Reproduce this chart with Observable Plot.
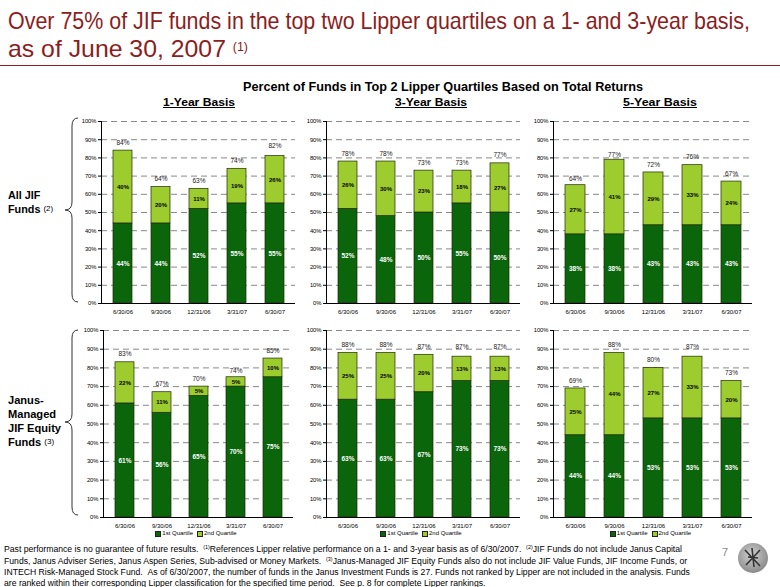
<!DOCTYPE html>
<html><head><meta charset="utf-8">
<script src="https://cdn.jsdelivr.net/npm/d3@7"></script>
<script src="https://cdn.jsdelivr.net/npm/@observablehq/plot@0.6"></script>
<style>
body{margin:0;background:#fff;}
#page{position:relative;width:780px;height:587px;overflow:hidden;background:#fff;
  font-family:"Liberation Sans",Arial,sans-serif;}
.abs{position:absolute;white-space:nowrap;}
.fit{transform-origin:0 0;}
.title{font-size:24px;line-height:28px;color:#8c1d20;}
.title sup{font-size:12px;vertical-align:top;position:relative;top:-2px;}
#rule{left:0;top:65px;width:780px;height:0;border-top:1.6px solid #8c1d20;}
#sub{font-weight:bold;font-size:13px;line-height:15px;}
.hdr{font-weight:bold;font-size:11.5px;line-height:13px;text-decoration:underline;}
.row{font-weight:bold;font-size:11px;line-height:14px;left:8px;}
.row sup{font-weight:normal;font-size:8px;vertical-align:top;}
.legend{font-size:6px;line-height:7px;display:flex;align-items:center;}
.sw{display:inline-block;width:6px;height:6px;border:0.6px solid #222;box-sizing:border-box;margin-right:1px;}
.foot{font-size:9.6px;line-height:11px;left:4px;transform-origin:0 0;}
.foot sup{font-size:6px;vertical-align:top;position:relative;top:-1px;}
#pg{left:722px;top:546px;font-size:11px;color:#888;}
</style></head><body><div id="page">
<div class="abs title fit" data-w="742" style="left:8px;top:7px">Over 75% of JIF funds in the top two Lipper quartiles on a 1- and 3-year basis,</div>
<div class="abs title fit" data-w="240" style="left:8px;top:35px">as of June 30, 2007 <sup>(1)</sup></div>
<div id="rule" class="abs"></div>
<div id="sub" class="abs fit" data-w="400" style="left:243px;top:79px">Percent of Funds in Top 2 Lipper Quartiles Based on Total Returns</div>
<div class="abs hdr fit" data-w="72" style="left:163px;top:96px">1-Year Basis</div>
<div class="abs hdr fit" data-w="72" style="left:395px;top:96px">3-Year Basis</div>
<div class="abs hdr fit" data-w="74" style="left:623px;top:96px">5-Year Basis</div>
<div class="abs row fit" data-w="45" style="top:188px">All JIF<br>Funds <sup>(2)</sup></div>
<div class="abs row fit" data-w="53" style="top:393px">Janus-<br>Managed<br>JIF Equity<br>Funds <sup>(3)</sup></div>
<div class="abs foot" id="firstfoot" data-w="678" style="top:543px">Past performance is no guarantee of future results. &nbsp;<sup>(1)</sup>References Lipper relative performance on a 1- and 3-year basis as of 6/30/2007. &nbsp;<sup>(2)</sup>JIF Funds do not include Janus Capital</div>
<div class="abs foot" style="top:555px">Funds, Janus Adviser Series, Janus Aspen Series, Sub-advised or Money Markets. &nbsp;<sup>(3)</sup>Janus-Managed JIF Equity Funds also do not include JIF Value Funds, JIF Income Funds, or</div>
<div class="abs foot" style="top:566px">INTECH Risk-Managed Stock Fund. &nbsp;As of 6/30/2007, the number of funds in the Janus Investment Funds is 27. Funds not ranked by Lipper are not included in the analysis. Funds</div>
<div class="abs foot" style="top:577px">are ranked within their corresponding Lipper classification for the specified time period. &nbsp;See p. 8 for complete Lipper rankings.</div>
<div id="pg" class="abs">7</div>
<svg class="abs" style="left:0;top:0" width="780" height="587" id="deco">
  <path d="M78,118 Q72,118 72,126 L72,202 Q72,210 65,210 Q72,210 72,218 L72,294 Q72,302 78,302" fill="none" stroke="#333" stroke-width="1"/>
  <path d="M78,330 Q72,330 72,338 L72,414 Q72,422 65,422 Q72,422 72,430 L72,507 Q72,515 78,515" fill="none" stroke="#333" stroke-width="1"/>
  <defs><radialGradient id="lg" cx="45%" cy="40%" r="60%"><stop offset="0" stop-color="#d0d0d0"/><stop offset="1" stop-color="#8a8a8a"/></radialGradient></defs>
  <circle cx="753" cy="558" r="15" fill="url(#lg)"/>
  <path d="M745,550 L760,566 M760,550 L746,565 M748,557 L758,558 M752,548 L754,567" stroke="#333" stroke-width="1.6" fill="none"/>
</svg>
</div>
<script>
const dates = ["6/30/06", "9/30/06", "12/31/06", "3/31/07", "6/30/07"];
const quartiles = ["1st Quartile", "2nd Quartile"];
const yTicks = [0, 10, 20, 30, 40, 50, 60, 70, 80, 90, 100];

const allJif1yQ1 = [44, 44, 52, 55, 55];
const allJif1yQ2 = [40, 20, 11, 19, 26];
const allJif1yTotal = [84, 64, 63, 74, 82];

const allJif3yQ1 = [52, 48, 50, 55, 50];
const allJif3yQ2 = [26, 30, 23, 18, 27];
const allJif3yTotal = [78, 78, 73, 73, 77];

const allJif5yQ1 = [38, 38, 43, 43, 43];
const allJif5yQ2 = [27, 41, 29, 33, 24];
const allJif5yTotal = [64, 77, 72, 76, 67];

const janus1yQ1 = [61, 56, 65, 70, 75];
const janus1yQ2 = [22, 11, 5, 5, 10];
const janus1yTotal = [83, 67, 70, 74, 85];

const janus3yQ1 = [63, 63, 67, 73, 73];
const janus3yQ2 = [25, 25, 20, 13, 13];
const janus3yTotal = [88, 88, 87, 87, 87];

const janus5yQ1 = [44, 44, 53, 53, 53];
const janus5yQ2 = [25, 44, 27, 33, 20];
const janus5yTotal = [69, 88, 80, 87, 73];

const DARK = "#0b650b", LIGHT = "#9dcc2f";
const FONT = '"Liberation Sans",Arial,sans-serif';
const page = document.getElementById("page");

// squeeze texts horizontally to mimic the narrow typeface of the original
document.querySelectorAll(".fit").forEach(el => {
  const w = el.getBoundingClientRect().width;
  const target = +el.dataset.w;
  if (w > 0) el.style.transform = `scaleX(${target / w})`;
});
// footnote: one common squeeze, set by the first line
{
  const first = document.getElementById("firstfoot");
  const s = (+first.dataset.w) / first.getBoundingClientRect().width;
  document.querySelectorAll(".foot").forEach(el => { el.style.transform = `scaleX(${s})`; });
}

function panel(q1, q2, tot, left, top, width, height, mt, mb, ml, mr, legendTop) {
  const rows = dates.flatMap((d, i) => [
    {date: d, quartile: quartiles[0], value: q1[i]},
    {date: d, quartile: quartiles[1], value: q2[i]}
  ]);
  const totals = dates.map((d, i) => ({date: d, total: tot[i]}));
  const chart = Plot.plot({
    width, height, marginTop: mt, marginBottom: mb, marginLeft: ml, marginRight: mr,
    style: {fontFamily: FONT, fontSize: "6.5px", background: "transparent", color: "#000", overflow: "visible"},
    x: {domain: dates, paddingInner: 0.5, paddingOuter: 0.3, label: null},
    y: {domain: [0, 100], label: null},
    color: {domain: quartiles, range: [DARK, LIGHT]},
    marks: [
      Plot.gridY(yTicks.filter(t => t > 0), {stroke: "#7a7a7a", strokeOpacity: 1, strokeDasharray: "6,4", strokeWidth: 0.9}),
      Plot.barY(rows, {x: "date", y: "value", fill: "quartile", stroke: "#1e2a05", strokeWidth: 0.7}),
      Plot.text(rows, Plot.stackY({x: "date", y: "value", z: "quartile",
        text: d => d.quartile === quartiles[0] ? d.value + "%" : "", fill: "#fff", fontWeight: "bold", fontSize: 6.5})),
      Plot.text(rows, Plot.stackY({x: "date", y: "value", z: "quartile",
        text: d => d.quartile === quartiles[1] ? d.value + "%" : "", fill: "#000", fontWeight: "bold", fontSize: 6})),
      Plot.text(totals, {x: "date", y: "total", text: d => d.total + "%", dy: -8, fontSize: 6.5, fill: "#222"}),
      Plot.axisY({ticks: yTicks, tickFormat: d => d + "%", tickSize: 3, tickPadding: 2, fontSize: 5.8, label: null}),
      Plot.axisX({tickSize: 0, tickPadding: 6, fontSize: 6, label: null}),
      Plot.frame({anchor: "left", stroke: "#000", strokeWidth: 1}),
      Plot.ruleY([0], {stroke: "#000", strokeWidth: 1})
    ]
  });
  chart.style.position = "absolute";
  chart.style.left = left + "px";
  chart.style.top = top + "px";
  page.appendChild(chart);
  if (legendTop) {
    const lg = document.createElement("div");
    lg.className = "abs legend";
    lg.style.top = legendTop + "px";
    lg.innerHTML = quartiles.map((q, i) =>
      `<span class="sw" style="background:${i ? LIGHT : DARK}"></span><span style="margin-right:4px">${q}</span>`).join("");
    page.appendChild(lg);
    const cx = left + ml + (width - ml - mr) / 2;
    lg.style.left = (cx - lg.getBoundingClientRect().width / 2) + "px";
  }
}

panel(allJif1yQ1, allJif1yQ2, allJif1yTotal, 78, 112, 219, 207, 9, 16, 23, 2, 0);
panel(allJif3yQ1, allJif3yQ2, allJif3yTotal, 303, 112, 219, 207, 9, 16, 23, 2, 0);
panel(allJif5yQ1, allJif5yQ2, allJif5yTotal, 530, 112, 223, 207, 9, 16, 23, 1, 0);
panel(janus1yQ1, janus1yQ2, janus1yTotal, 80, 321, 216, 210, 9, 14, 23, 3, 530);
panel(janus3yQ1, janus3yQ2, janus3yTotal, 303, 321, 219, 210, 9, 14, 23, 2, 530);
panel(janus5yQ1, janus5yQ2, janus5yTotal, 530, 321, 223, 210, 9, 14, 23, 1, 530);
</script>
</body></html>
